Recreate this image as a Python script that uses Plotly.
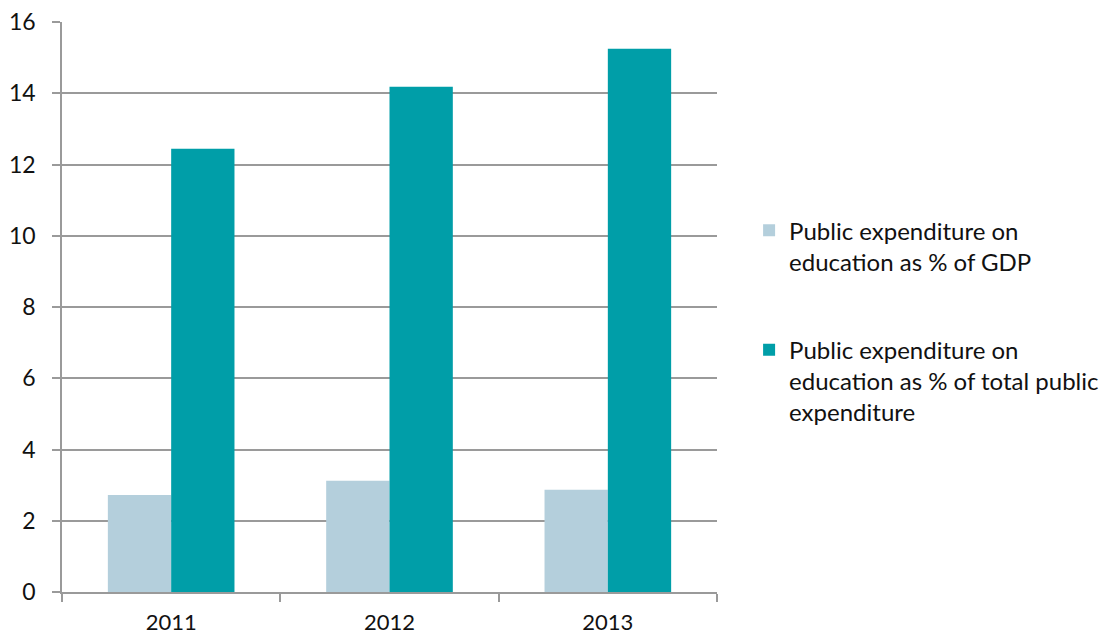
import plotly.graph_objects as go

years = ["2011", "2012", "2013"]
gdp_share = [2.72, 3.12, 2.87]
total_share = [12.44, 14.18, 15.25]
series_names = [
    "Public expenditure on<br>education as % of GDP",
    "Public expenditure on<br>education as % of total public<br>expenditure",
]

FONT = "Lato"

fig = go.Figure()
fig.add_trace(go.Bar(
    x=years, y=gdp_share, name=series_names[0],
    marker=dict(color="#B4CFDC", line=dict(width=0)),
    legendgroup="a",
))
fig.add_trace(go.Bar(
    x=years, y=total_share, name=series_names[1],
    marker=dict(color="#009EA8", line=dict(width=0)),
    legendgroup="b",
))

fig.update_layout(
    width=1111, height=636,
    margin=dict(l=62, r=394, t=22, b=44, autoexpand=False),
    paper_bgcolor="white", plot_bgcolor="white",
    barmode="group", bargap=0.42, bargroupgap=0,
    font=dict(family=FONT, size=23, color="#111"),
    showlegend=True,
    legend=dict(
        x=1.049, y=0.475, xanchor="left", yanchor="middle",
        font=dict(family=FONT, size=24, color="#111"),
        tracegroupgap=54, itemwidth=30, valign="top",
        bgcolor="rgba(0,0,0,0)",
    ),
    xaxis=dict(
        type="category", showgrid=False, showline=True, automargin=False,
        linecolor="#9A9A9A", linewidth=1.5,
        ticks="outside", tickson="boundaries", ticklen=8,
        tickcolor="#9A9A9A", tickwidth=1.5,
        ticklabelstandoff=10,
        tickfont=dict(family=FONT, size=22, color="#111"),
    ),
    yaxis=dict(
        range=[0, 16], dtick=2, showgrid=True, gridcolor="#9A9A9A", gridwidth=1.5,
        showline=True, linecolor="#9A9A9A", linewidth=1.5, automargin=False,
        ticks="outside", ticklen=8, tickcolor="#9A9A9A", tickwidth=1.5,
        zeroline=False, ticklabelstandoff=12,
        tickfont=dict(family=FONT, size=23, color="#111"),
    ),
)

fig.write_html("out.html")
